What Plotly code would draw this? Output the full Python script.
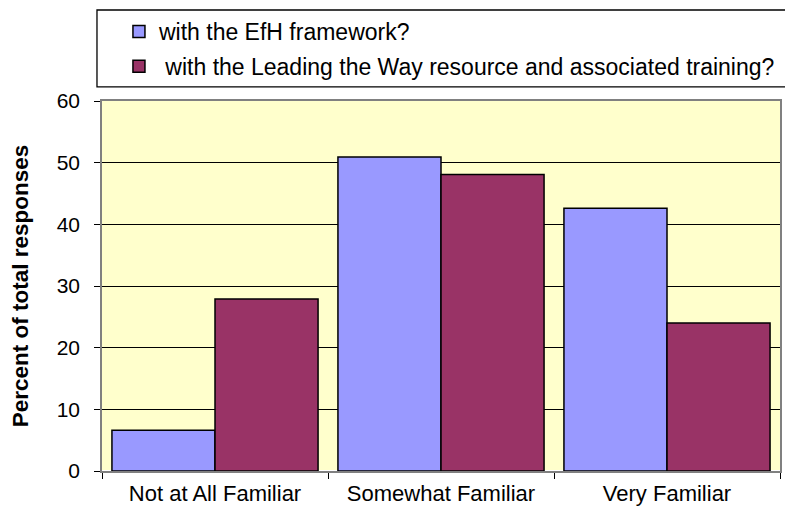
import plotly.graph_objects as go

categories = ['Not at All Familiar', 'Somewhat Familiar', 'Very Familiar']
efh_framework = [6.6, 50.9, 42.6]
leading_the_way = [27.9, 48.1, 24.0]
series_names = ['with the EfH framework?',
                '\u00a0with the Leading the Way resource and associated training?']

FONT = 'Liberation Sans, Arial, sans-serif'

fig = go.Figure()
fig.add_trace(go.Bar(x=categories, y=efh_framework, name=series_names[0],
                     legendgroup='a',
                     marker=dict(color='#9999FF', line=dict(color='black', width=1.5))))
fig.add_trace(go.Bar(x=categories, y=leading_the_way, name=series_names[1],
                     legendgroup='b',
                     marker=dict(color='#993366', line=dict(color='black', width=1.5))))

# legend frame (runs off the right edge like the original)
fig.add_shape(type='rect', xref='paper', yref='paper',
              x0=-0.0074, x1=1.06, y0=1.038, y1=1.246,
              line=dict(color='black', width=1.3), fillcolor='rgba(0,0,0,0)', layer='above')

fig.update_layout(
    width=793, height=511,
    margin=dict(l=94, r=21, t=93, b=48, autoexpand=False),
    paper_bgcolor='white',
    plot_bgcolor='#FFFFCC',
    barmode='group',
    bargap=0.088,
    bargroupgap=0,
    font=dict(family=FONT, size=22, color='black'),
    legend=dict(x=0.025, y=1.246, xanchor='left', yanchor='top',
                borderwidth=0, bgcolor='rgba(0,0,0,0)',
                font=dict(size=23), tracegroupgap=2, traceorder='grouped'),
    xaxis=dict(type='category', tickson='boundaries', ticks='outside', ticklen=6,
               tickcolor='black', showline=True, linecolor='#808080', linewidth=1.5,
               mirror=True, ticklabelstandoff=2,
               tickfont=dict(size=22)),
    yaxis=dict(range=[0, 60], dtick=10, ticks='outside', ticklen=6, tickcolor='black',
               showgrid=True, gridcolor='black', gridwidth=1,
               showline=True, linecolor='#808080', linewidth=1.5, mirror=True,
               ticklabelstandoff=10,
               title=dict(text='<b>Percent of total responses</b>', font=dict(size=22.5), standoff=26),
               tickfont=dict(size=21)),
)

fig.write_html('out.html')
